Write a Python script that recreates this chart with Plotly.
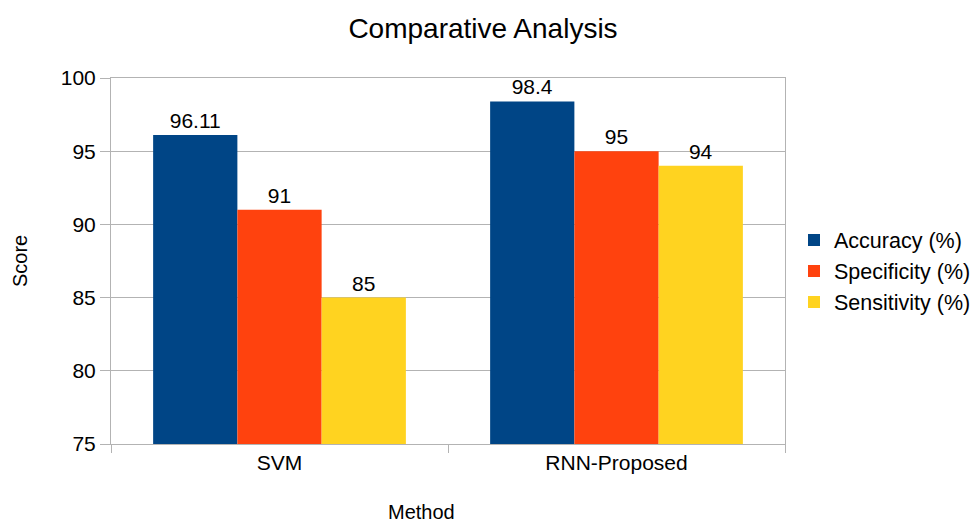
import plotly.graph_objects as go

methods = ["SVM", "RNN-Proposed"]
accuracy = [96.11, 98.4]
specificity = [91, 95]
sensitivity = [85, 94]
accuracy_labels = ["96.11", "98.4"]
specificity_labels = ["91", "95"]
sensitivity_labels = ["85", "94"]

FONT = "Liberation Sans, Arial, sans-serif"
GRID = "#b3b3b3"

series = [
    ("Accuracy (%)", accuracy, accuracy_labels, "#004586"),
    ("Specificity (%)", specificity, specificity_labels, "#ff420e"),
    ("Sensitivity (%)", sensitivity, sensitivity_labels, "#ffd320"),
]

fig = go.Figure()
for name, vals, labels, color in series:
    fig.add_trace(go.Bar(
        x=methods, y=vals, name=name, marker_color=color,
        marker_line_width=0,
        text=labels, textposition="outside", cliponaxis=False,
        textfont=dict(family=FONT, size=21, color="#000000"),
    ))

fig.update_layout(
    width=976, height=524,
    margin=dict(l=111, r=191, t=78, b=80, autoexpand=False),
    paper_bgcolor="white", plot_bgcolor="white",
    font=dict(family=FONT, color="#000000"),
    barmode="group", bargap=0.25, bargroupgap=0,
    title=dict(text="Comparative Analysis", x=483 / 976, xanchor="center",
               y=1 - 28 / 524, yanchor="middle",
               font=dict(family=FONT, size=28, color="#000000")),
    legend=dict(x=794 / 976, xref="container", y=1 - 271 / 524,
                yref="container", yanchor="middle", xanchor="left",
                font=dict(family=FONT, size=21.5),
                itemwidth=30, tracegroupgap=0,
                bgcolor="rgba(0,0,0,0)"),
    showlegend=True,
)

fig.update_yaxes(
    range=[75, 100], dtick=5, tick0=75,
    showgrid=True, gridcolor=GRID, gridwidth=1,
    showline=True, linecolor=GRID, linewidth=1, mirror=True,
    ticks="outside", ticklen=10, tickcolor=GRID,
    tickfont=dict(family=FONT, size=21, color="#000000"),
    zeroline=False,
)
fig.update_xaxes(
    showline=True, linecolor=GRID, linewidth=1, mirror=True,
    ticks="outside", ticklen=8, tickcolor=GRID, tickson="boundaries",
    tickfont=dict(family=FONT, size=21, color="#000000"),
    showgrid=False,
)

fig.add_annotation(text="Score", xref="paper", yref="paper",
                   x=(20 - 111) / 674, xanchor="center", y=0.5,
                   textangle=-90, showarrow=False,
                   font=dict(family=FONT, size=20))
fig.add_annotation(text="Method", xref="paper", yref="paper",
                   x=(421 - 111) / 674, y=-(512 - 444) / 366, yanchor="middle",
                   showarrow=False, font=dict(family=FONT, size=20))

fig.write_html("out.html")
